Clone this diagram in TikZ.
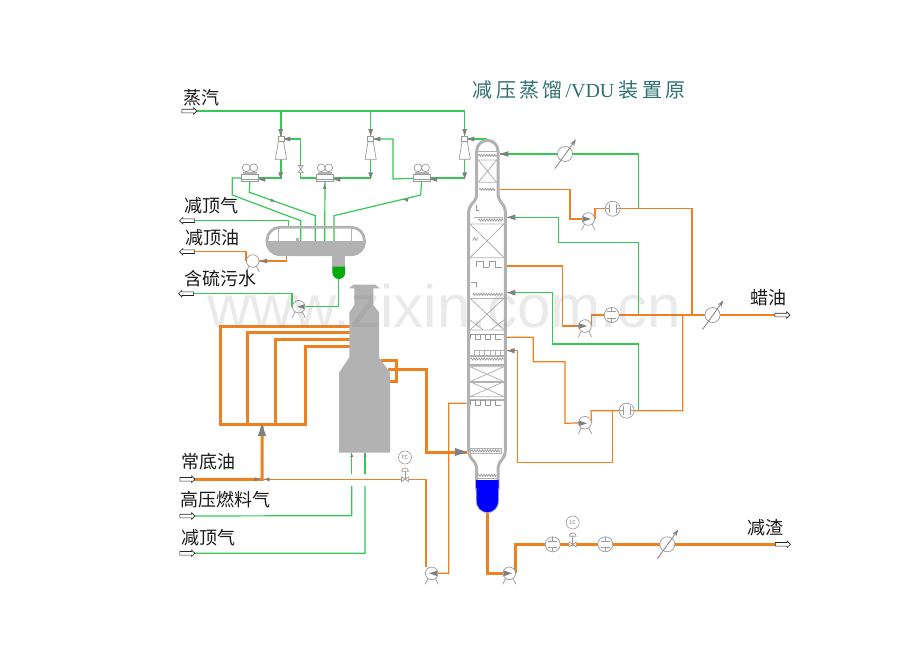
\documentclass[tikz,border=0pt]{standalone}
\usepackage{fontspec}
\setmainfont{Noto Sans CJK SC}
\newfontfamily\wmfont{Liberation Sans}
\newfontfamily\ttlfont{Liberation Serif}
\usetikzlibrary{arrows.meta,shapes.arrows,decorations.pathmorphing}
\definecolor{grn}{HTML}{35C855}
\definecolor{org}{HTML}{EE8020}
\definecolor{eqg}{HTML}{B2B2B2}
\definecolor{eqk}{HTML}{9A9A9A}
\definecolor{tipg}{HTML}{808080}
\definecolor{ttl}{HTML}{2F7070}
\pgfdeclarelayer{pipes}
\pgfsetlayers{pipes,main}
\tikzset{
  zA/.style={shift={(170,80)},x=.33333pt,y=-.33333pt},
  zB/.style={shift={(450,130)},x=.33333pt,y=-.33333pt},
  zC/.style={shift={(450,320)},x=.33333pt,y=-.33333pt},
  zD/.style={shift={(170,280)},x=.33333pt,y=-.33333pt},
  gr/.style={draw=grn,line width=1.2pt},
  orA/.style={draw=org,line width=1.2pt},
  orB/.style={draw=org,line width=3pt},
  wall/.style={draw=eqg,line width=3pt},
  eq/.style={draw=eqg,line width=.8pt},
  eqd/.style={draw=eqk,line width=.7pt},
  elem/.style={circle,draw=eqk,fill=white,line width=.7pt,minimum size=15pt,inner sep=0pt},
  pumpc/.style={circle,draw=eqk,fill=white,line width=.7pt,minimum size=12.6pt,inner sep=0pt},
  tag/.style={circle,draw=eqk,fill=white,line width=.6pt,minimum size=13pt,inner sep=0pt,font=\fontsize{5.5}{6}\selectfont,text=tipg},
  ejhead/.style={rectangle,draw=eqk,fill=white,line width=.7pt,minimum width=6.2pt,minimum height=5.4pt,inner sep=0pt},
  condbox/.style={rectangle,draw=eqk,fill=white,line width=.8pt,minimum width=17pt,minimum height=7.5pt,inner sep=0pt},
  bdr/.style={single arrow,draw=black!85,fill=white,line width=.6pt,minimum height=15pt,single arrow head extend=1.5pt,inner sep=0pt,anchor=center,execute at begin node={\rule{0pt}{3pt}}},
  bdl/.style={bdr,shape border rotate=180},
  lab/.style={anchor=west,inner sep=0pt,font=\fontsize{18}{20}\selectfont,text=black!90},
  zig/.style={eqd,decorate,decoration={zigzag,segment length=2.6pt,amplitude=1.1pt}},
}
\newcommand\flowtip[3][1]{\fill[tipg,shift={#2},rotate=#3,scale=#1] (0pt,0pt)--(-7pt,-2.4pt)--(-7pt,2.4pt)--cycle;}
\newcommand\ejector[2]{%
  \draw[eqd,fill=white] (#2-2.6,141.7)--(#2+2.6,141.7)--(#2+5.6,159.3)--(#2-5.6,159.3)--cycle;
  \node[ejhead] (#1) at (#2,139) {};
  \coordinate (#1b) at (#2,159.3);}
\newcommand\condenser[2]{%
  \draw[eqd,fill=white] (#2-3.8,167.8) circle[radius=3.9pt] (#2+3.8,167.8) circle[radius=3.9pt];
  \draw[eqg,line width=2pt] (#2-7,172.6)--(#2+7,172.6);
  \node[condbox] (#1) at (#2,178) {};
  \draw[eqd] (#2-8.5,179.5)--(#2+8.5,179.5);}
\newcommand\pumpR[2]{%
  \draw[eqd] #2 ++(-3.6pt,-5pt)--++(-3pt,-6pt) #2 ++(3.6pt,-5pt)--++(3pt,-6pt);
  \node[pumpc] (#1) at #2 {};}
\newcommand\orifice[3]{%
  \node[elem] (#1) at #2 {};
  \begin{scope}[shift={(#1.center)},rotate=#3]
    \draw[eqd] (-3.2pt,-4.3pt)--(-3.2pt,4.3pt) (3.2pt,-4.3pt)--(3.2pt,4.3pt) (-3.2pt,0pt)--(-7pt,0pt) (3.2pt,0pt)--(7pt,0pt);
  \end{scope}}
\newcommand\exch[2]{%
  \node[elem] (#1) at #2 {};
  \draw[tipg,line width=.8pt,-{Stealth[length=7pt,width=4.5pt]}] ([xshift=-10pt,yshift=-14.5pt]#1.center)--([xshift=11pt,yshift=14.7pt]#1.center);}
\newcommand\vbow[2]{%
  \coordinate (#1) at #2;
  \draw[eqd,fill=white,shift={(#1)}] (-3.6pt,-2.4pt)--(3.6pt,2.4pt)--(3.6pt,-2.4pt)--(-3.6pt,2.4pt)--cycle;}
\newcommand\vbowV[2]{%
  \coordinate (#1) at #2;
  \draw[eqd,fill=white,shift={(#1)}] (-2.4pt,-3.6pt)--(2.4pt,3.6pt)--(-2.4pt,3.6pt)--(2.4pt,-3.6pt)--cycle;}
\newcommand\controlvalve[3]{%
  \vbow{#1v}{#2}
  \draw[eqd] (#1v)--++(0pt,10pt);
  \draw[eqd,fill=white,shift={(#1v)}] (-3.4pt,8pt) arc[start angle=180,end angle=0,radius=3.4pt]--cycle;
  \node[tag,anchor=south] (#1) at ([yshift=15pt]#1v) {#3};}
\newcommand\sqwave[4]{\foreach \xx in {#1}{\draw[eqd] (\xx,#3)--(\xx,#2)--(\xx+#4,#2)--(\xx+#4,#3)--(\xx+#4+#4,#3);}}
\begin{document}
\begin{tikzpicture}[x=1pt,y=-1pt]
\useasboundingbox (0,0) rectangle (920,651);
% --- overhead equipment
\ejector{ejA}{281}
\ejector{ejB}{370.6}
\ejector{ejC}{464.7}
\condenser{cdA}{250}
\condenser{cdB}{325}
\condenser{cdC}{421.7}
% drum
\node[draw=eqg,line width=2.8pt,rounded corners=13pt,minimum width=97.4pt,minimum height=27.4pt,inner sep=0pt] (drum) at (315.7,241) {};
\begin{scope}
  \clip (260,241.7) rectangle (370,258);
  \fill[eqg,rounded corners=14pt] (265.7,226) rectangle (365.7,255.7);
\end{scope}
\draw[eqg,line width=1.2pt] (278.3,228)--(278.3,241.7) (351.7,228)--(351.7,241.7);
\fill[eqg] (296,237.5) rectangle (299,242);
\fill[eqg] (332.4,255) rectangle (345.2,267);
\fill[green!70!black!95!blue] (332.4,266.7)--(345.2,266.7)--(345.2,272.5) arc[start angle=0,end angle=-180,x radius=6.4pt,y radius=6.5pt]--cycle;
\coordinate (boot) at (338.8,279);
% heater
\begin{scope}[zD]
  \fill[eqg] (550,14)--(615,14)--(630,25)--(610,25)--(610,75)--(627,97)--(627,232)--(660,278)--(660,518)--(507,518)--(507,278)--(538,232)--(538,97)--(553,75)--(553,25)--(537,25)--cycle;
\end{scope}
% --- tower
\draw[wall,rounded corners=5pt] (476.7,490)--(476.7,464)--(468.7,456)--(468.7,207)--(476.7,199)--(476.7,151);
\draw[wall,rounded corners=5pt] (498,490)--(498,464)--(505.3,456)--(505.3,207)--(498,199)--(498,151);
\draw[wall] (476.7,151) arc[start angle=180,end angle=0,radius=10.65pt];
\fill[blue] (476.2,480)--(498.6,480)--(498.6,501) arc[start angle=0,end angle=-180,x radius=11.2pt,y radius=11.7pt]--cycle;
\draw[eqg,line width=.7pt] (476.2,488)--(476.2,501) arc[start angle=180,end angle=360,x radius=11.2pt,y radius=11.7pt]--(498.6,488);
\begin{scope}[zB]
  \draw[zig] (85,76)--(140,76);
  \draw[eq,line width=1.4pt] (85,65)--(140,65);
  \draw[eq] (85,90)--(140,90) (85,157)--(140,157) (85,90)--(140,157) (140,90)--(85,157);
  \draw[zig] (88,178)--(135,178);
  \draw[eqd] (80,226)--(80,240)--(87,240);
  \draw[eq] (73,262)--(160,262);
  \draw[zig] (85,270)--(160,270);
  \draw[eq] (60,282)--(162,282) (60,383)--(162,383) (60,282)--(162,383) (162,282)--(60,383);
  \draw[eqd] (68,332)--(74,322)--(78,332)--(84,322);
  \sqwave{80,118}{395}{412}{19}
  \draw[eqd] (62,458)--(80,458)--(80,470);
  \draw[zig] (68,493)--(160,493);
  \draw[eq] (62,505)--(162,505);
  \draw[eq] (60,505)--(162,600) (162,505)--(60,600);
\end{scope}
\begin{scope}[zC]
  \draw[eq] (60,30)--(162,30) (60,0)--(100,30) (162,0)--(122,30);
  \draw[eqd] (60,42)--(162,42);
  \sqwave{62,92,122}{42}{57}{15}
  \draw[eq] (72,92) rectangle (162,105) (88,92)--(88,105) (104,92)--(104,105) (120,92)--(120,105) (136,92)--(136,105) (150,92)--(150,105);
  \draw[eq,line width=1.1pt] (60,108)--(162,108) (60,135)--(162,135);
  \draw[zig] (62,117)--(162,117);
  \draw[eq] (60,140)--(162,140) (60,140)--(162,185) (162,140)--(60,185);
  \draw[eq,line width=2pt] (60,185)--(162,185);
  \draw[eq] (60,185)--(162,230) (162,185)--(60,230) (60,230)--(162,230);
  \draw[eq,line width=1.1pt] (60,240)--(162,240);
  \sqwave{62,92,122}{240}{255}{15}
  \draw[eq,line width=1.1pt] (60,385) rectangle (155,400);
  \draw[zig] (64,392.5)--(152,392.5);
  \draw[zig] (84,466)--(140,466);
  \draw[eq] (82,476)--(144,476);
\end{scope}
% --- pumps, elements
\pumpR{pmA}{(588.3,219)}
\pumpR{pmB}{(585,326)}
\pumpR{pmC}{(585,422.7)}
\pumpR{pmD}{(431.7,573.3)}
\pumpR{pmE}{(509.3,573.3)}
\pumpR{pmF}{(252.7,261)}
\pumpR{pmG}{(298.7,306.7)}
\exch{exA}{(565,154)}
\exch{exB}{(712.5,315)}
\exch{exC}{(667.3,544.3)}
\orifice{foA}{(612.7,208.7)}{0}
\orifice{foB}{(611.7,315)}{90}
\orifice{foC}{(626.7,410.7)}{0}
\orifice{foD}{(552.7,544.3)}{90}
\orifice{foE}{(605.3,544.3)}{90}
\vbowV{vlA}{(300.7,169)}
\controlvalve{fc}{(405,479.3)}{FC}
\controlvalve{lc}{(572.7,544.3)}{LC}
% boundary arrows
\node[bdr] (inS) at (188.5,111) {};
\node[bdl] (outG) at (188,220.7) {};
\node[bdl] (outO) at (188,251.7) {};
\node[bdl] (outW) at (187,293.7) {};
\node[bdr] (inF) at (186.5,479.3) {};
\node[bdr] (inH) at (186.5,516) {};
\node[bdr] (inV) at (186.5,553.3) {};
\node[bdr] (outL) at (781.5,315) {};
\node[bdr] (outR) at (782,544.3) {};
% --- pipes
\begin{pgfonlayer}{pipes}
  \draw[gr] (inS.center)-|(ejC.north);
  \draw[gr] (ejA.north|-inS)--(ejA.north);
  \draw[gr] (ejB.north|-inS)--(ejB.north);
  \draw[gr] (ejAb)|-(cdA.center);
  \draw[gr] (ejBb)|-(cdB.center);
  \draw[gr] (ejCb)|-(cdC.center);
  \draw[gr] (ejA.center)-|(vlA)|-(cdB.center);
  \draw[gr] (ejB.center)-|(393,179)--(cdC.center);
  \draw[gr] (ejC.center)-|(486.7,142);
  \draw[gr] (cdA.center)--(232.3,178)--(232.3,195)--(300.7,220.7)--(300.7,241);
  \draw[gr] (cdA.center)--(249.3,192.3)--(315.3,215.7)--(315.3,241);
  \draw[gr] (cdB.center)--(324.7,241);
  \draw[gr] (cdC.center)--(420.7,195)--(334,215.7)--(334,241);
  \draw[gr] (outG.center)-|(288.7,228);
  \draw[orA] (outO.center)-|(pmF.west);
  \draw[orA] (286.7,255)|-(pmF.center);
  \draw[gr] (boot)|-(pmG.center);
  \draw[gr] (outW.center)-|(pmG.west);
  \draw[gr] (638.3,208.7)--(638.3,154)--(exA.center)--(500,154);
  \draw[orA] (499,189.3)--(570,189.3)--(570,219)--(pmA.center);
  \draw[orA] (pmA.east)|-(foA.center)--(692,208.7)--(692,315)--(exB.center);
  \draw[gr] (507,217.3)--(558.3,217.3)--(558.3,242.7)--(638.3,242.7)--(638.3,315);
  \draw[orA] (507,266)--(562.7,266)--(562.7,326)--(pmB.center);
  \draw[orA] (pmB.east)|-(foB.center)--(exB.center)--(outL.center);
  \draw[orA] (682.7,315)--(682.7,410.7)--(foC.center)--(591,410.7)--(pmC.east);
  \draw[gr] (638.3,410.7)--(638.3,344)--(552.7,344)--(552.7,292.7)--(507,292.7);
  \draw[orA] (507,337.3)--(533.3,337.3)--(533.3,361.7)--(565,361.7)--(565,423.3)--(pmC.center);
  \draw[orA] (612.7,410.7)--(612.7,462.3)--(517.3,462.3)--(517.3,350.7)--(507,350.7);
  \draw[orB] (487.3,512)--(487.3,573.3)--(pmE.center);
  \draw[orB] (pmE.east)|-(foD.center)--(exC.center)--(outR.center);
  \begin{scope}[zD]
    \draw[orB] (540,140)--(152,140)--(152,432)--(405,432)--(405,198)--(540,198);
    \draw[orB] (233,432)--(233,158)--(540,158);
    \draw[orB] (317,432)--(317,178)--(540,178);
    \draw[orB] (632,242)--(680,242)--(680,305)--(655,305);
    \draw[orB] (655,268)--(768,268)--(768,516)--(890,516);
    \draw[orB] (inF.center)--(276,598)--(276,432);
    \draw[orA] (276,598)--(768,598)--(768,860);
    \draw[orA] (pmD.center)--(836,880)--(836,370)--(890,370);
    \draw[gr] (inH.center)--(545,707)--(545,618);
    \draw[gr] (545,582)--(545,518);
    \draw[gr] (inV.center)--(585,820)--(585,618);
    \draw[gr] (585,582)--(585,518);
  \end{scope}
\end{pgfonlayer}
% --- tips
\begin{scope}[zA]
  \flowtip{(332,168)}{-90}\flowtip{(602,168)}{-90}\flowtip{(884,168)}{-90}
  \flowtip{(332,298)}{-90}\flowtip{(602,298)}{-90}\flowtip{(884,298)}{-90}
  \flowtip{(265,298)}{180}\flowtip{(490,298)}{180}\flowtip{(780,298)}{180}
  \flowtip{(340,177)}{180}\flowtip{(610,177)}{180}\flowtip{(892,177)}{180}
  \flowtip[.7]{(316,365)}{-20}\flowtip[.7]{(700,357)}{165}
  \flowtip[.7]{(464,312)}{90}
  \flowtip{(270,543)}{180}
  \flowtip{(382,680)}{180}
\end{scope}
\flowtip[1.2]{(500,154)}{180}
\flowtip[1.2]{(507,217.3)}{180}
\flowtip[1.2]{(507,292.7)}{180}
\flowtip[1.1]{(507,350.7)}{180}
\flowtip[1.2]{(591,219)}{0}
\flowtip[1.2]{(587,326)}{0}
\flowtip[1.2]{(587,423.3)}{0}
\flowtip[1.2]{(429,573.3)}{180}
\flowtip[1.2]{(512,573.3)}{0}
\begin{scope}[zD]
  \flowtip[1.7]{(890,516)}{0}
  \flowtip[1.7]{(276,432)}{90}
  \flowtip[.6]{(545,518)}{90}\flowtip[.6]{(585,518)}{90}
  \flowtip[.8]{(270,598)}{0}\flowtip[.8]{(282,598)}{180}
\end{scope}
% --- labels
\node[lab] (tS) at (183,97.5) {蒸汽};
\node[lab] (tG) at (184.7,206) {减顶气};
\node[lab] (tO) at (185.7,238) {减顶油};
\node[lab] (tW) at (184,279) {含硫污水};
\node[lab] (tF) at (181,461.7) {常底油};
\node[lab] (tH) at (180.7,500) {高压燃料气};
\node[lab] (tV) at (181,538) {减顶气};
\node[lab] (tL) at (750,298) {蜡油};
\node[lab] (tR) at (747.7,528) {减渣};
\node[lab,text=ttl,font=\fontsize{20}{22}\selectfont] (title) at (472.7,89.5) {减\hspace{3.2pt}压\hspace{3.2pt}蒸\hspace{3.2pt}馏\hspace{3pt}{\ttlfont /VDU}\hspace{4.5pt}装\hspace{3.2pt}置\hspace{3.2pt}原};
% --- watermark
\node[anchor=base,inner sep=0pt,font=\wmfont\fontsize{60}{60}\selectfont,text=tipg,opacity=.17] (wm) at (444,327) {www.zixin.com.cn};
\end{tikzpicture}
\end{document}
